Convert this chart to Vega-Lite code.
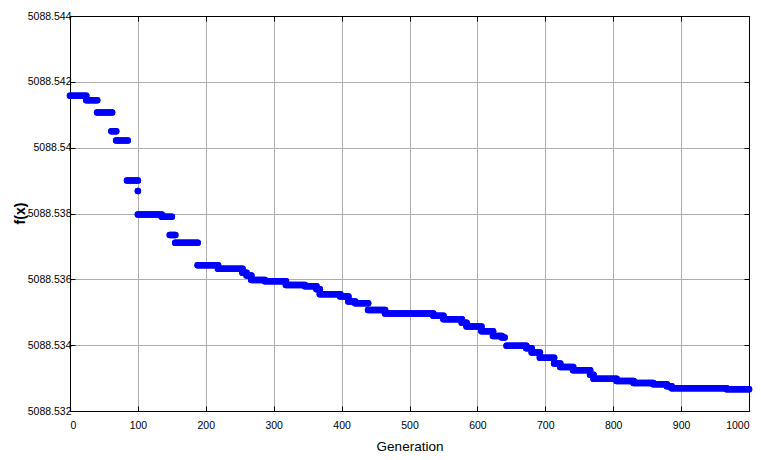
{
  "$schema": "https://vega.github.io/schema/vega-lite/v6.json",
  "width": 679,
  "height": 395,
  "autosize": "none",
  "padding": {"left": 70, "top": 16, "right": 12, "bottom": 49},
  "background": "white",
  "config": {
    "view": {"stroke": "black", "strokeWidth": 1},
    "font": "Liberation Sans"
  },
  "data": {
    "values": [
      {"g0": 0, "g1": 24, "v": 5088.54158},
      {"g0": 24, "g1": 40, "v": 5088.54144},
      {"g0": 40, "g1": 62, "v": 5088.54107},
      {"g0": 61, "g1": 68, "v": 5088.5405},
      {"g0": 68, "g1": 85, "v": 5088.54022},
      {"g0": 84, "g1": 100, "v": 5088.539},
      {"g0": 100, "g1": 100, "v": 5088.53868},
      {"g0": 100, "g1": 135, "v": 5088.53797},
      {"g0": 135, "g1": 150, "v": 5088.5379},
      {"g0": 147, "g1": 155, "v": 5088.53735},
      {"g0": 155, "g1": 188, "v": 5088.53711},
      {"g0": 188, "g1": 218, "v": 5088.53643},
      {"g0": 218, "g1": 254, "v": 5088.53632},
      {"g0": 254, "g1": 260, "v": 5088.5362},
      {"g0": 260, "g1": 267, "v": 5088.53612},
      {"g0": 267, "g1": 287, "v": 5088.53598},
      {"g0": 287, "g1": 318, "v": 5088.53594},
      {"g0": 318, "g1": 346, "v": 5088.53583},
      {"g0": 346, "g1": 363, "v": 5088.53579},
      {"g0": 363, "g1": 368, "v": 5088.5357},
      {"g0": 368, "g1": 398, "v": 5088.53555},
      {"g0": 398, "g1": 410, "v": 5088.53548},
      {"g0": 410, "g1": 420, "v": 5088.53533},
      {"g0": 420, "g1": 439, "v": 5088.53527},
      {"g0": 439, "g1": 464, "v": 5088.53507},
      {"g0": 464, "g1": 535, "v": 5088.53496},
      {"g0": 535, "g1": 550, "v": 5088.53489},
      {"g0": 550, "g1": 577, "v": 5088.53479},
      {"g0": 577, "g1": 584, "v": 5088.53468},
      {"g0": 584, "g1": 606, "v": 5088.53457},
      {"g0": 606, "g1": 623, "v": 5088.53442},
      {"g0": 623, "g1": 636, "v": 5088.53428},
      {"g0": 636, "g1": 640, "v": 5088.53423},
      {"g0": 643, "g1": 672, "v": 5088.53398},
      {"g0": 672, "g1": 680, "v": 5088.53391},
      {"g0": 680, "g1": 692, "v": 5088.53378},
      {"g0": 692, "g1": 713, "v": 5088.53362},
      {"g0": 713, "g1": 722, "v": 5088.53344},
      {"g0": 722, "g1": 741, "v": 5088.53334},
      {"g0": 741, "g1": 766, "v": 5088.53324},
      {"g0": 766, "g1": 771, "v": 5088.5331},
      {"g0": 771, "g1": 805, "v": 5088.53298},
      {"g0": 805, "g1": 830, "v": 5088.53291},
      {"g0": 830, "g1": 859, "v": 5088.53285},
      {"g0": 859, "g1": 879, "v": 5088.53281},
      {"g0": 879, "g1": 886, "v": 5088.53275},
      {"g0": 886, "g1": 967, "v": 5088.53269},
      {"g0": 967, "g1": 1000, "v": 5088.53266}
    ]
  },
  "layer": [
    {
      "mark": {"type": "rule", "color": "#0000ff", "strokeWidth": 6.5, "strokeCap": "round"},
      "encoding": {
        "x": {
          "field": "g0", "type": "quantitative",
          "scale": {"domain": [0, 1000], "nice": false, "zero": false},
          "axis": {
            "title": "Generation", "titleFontSize": 13.5, "titleColor": "black", "titleFontWeight": "normal",
            "titlePadding": 9,
            "values": [0, 100, 200, 300, 400, 500, 600, 700, 800, 900, 1000],
            "format": "d",
            "labelFontSize": 10.5, "labelColor": "black", "labelPadding": 14,
            "tickSize": -5, "tickColor": "black", "domainColor": "black",
            "grid": true, "gridColor": "#adadad", "gridWidth": 1
          }
        },
        "x2": {"field": "g1"},
        "y": {
          "field": "v", "type": "quantitative",
          "scale": {"domain": [5088.532, 5088.544], "nice": false, "zero": false},
          "axis": {
            "title": "f(x)", "titleFontSize": 14, "titleFontWeight": "bold",
            "titleColor": "black", "titleX": -50, "titleY": 197, "titleAlign": "center", "titleBaseline": "middle",
            "values": [5088.532, 5088.534, 5088.536, 5088.538, 5088.54, 5088.542, 5088.544],
            "format": ".3~f",
            "labelFontSize": 10.5, "labelColor": "black", "labelPadding": 4,
            "tickSize": -5, "tickColor": "black", "domainColor": "black",
            "grid": true, "gridColor": "#adadad", "gridWidth": 1
          }
        }
      }
    },
    {
      "mark": {"type": "rule", "color": "#0000ff", "strokeWidth": 6.5, "strokeCap": "round"},
      "encoding": {
        "x": {
          "field": "g0", "type": "quantitative",
          "axis": {"orient": "top", "title": null, "labels": false, "grid": false,
            "values": [0, 100, 200, 300, 400, 500, 600, 700, 800, 900, 1000],
            "tickSize": -5, "tickColor": "black", "domainColor": "black"}
        },
        "x2": {"field": "g1"},
        "y": {
          "field": "v", "type": "quantitative",
          "axis": {"orient": "right", "title": null, "labels": false, "grid": false,
            "values": [5088.532, 5088.534, 5088.536, 5088.538, 5088.54, 5088.542, 5088.544],
            "tickSize": -5, "tickColor": "black", "domainColor": "black"}
        }
      }
    }
  ],
  "resolve": {"axis": {"x": "independent", "y": "independent"}}
}
